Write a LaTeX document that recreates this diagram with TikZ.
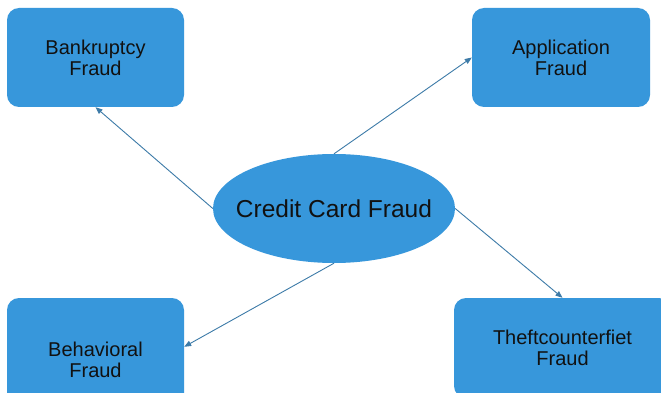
\documentclass[tikz,border=0pt]{standalone}
\usepackage{fontspec}
\setmainfont{Liberation Sans}
\usetikzlibrary{shapes.geometric,arrows.meta,calc}
\definecolor{boxblue}{RGB}{55,151,219}
\definecolor{linkblue}{RGB}{61,123,168}
\definecolor{inkcol}{RGB}{17,17,17}
\begin{document}
\begin{tikzpicture}[x=1pt,y=-1pt,
  fraudbox/.style={draw=none,fill=boxblue,rounded corners=12pt,inner sep=0pt,align=center,text=inkcol,font=\fontsize{20}{21}\selectfont},
  hub/.style={ellipse,fill=boxblue,inner xsep=-20pt,inner ysep=0pt,minimum width=242pt,minimum height=109pt,text=inkcol,font=\fontsize{24.5}{26}\selectfont},
  link/.style={draw=linkblue,line width=0.9pt,-{Triangle[length=7pt,width=5.5pt]}}]
\useasboundingbox (0,0) rectangle (661,393);
\clip (0,0) rectangle (661,393);
\fill[white] (0,0) rectangle (661,393);
\node[fraudbox,minimum width=177pt,minimum height=99pt] (bk) at (95.5,57.5) {Bankruptcy\\Fraud};
\node[fraudbox,minimum width=178pt,minimum height=99pt] (ap) at (561,57.5) {Application\\Fraud};
\node[fraudbox,minimum width=177pt,minimum height=124pt] (bh) at (95.5,360) {Behavioral\\Fraud};
\node[fraudbox,minimum width=217pt,minimum height=100pt] (th) at (562.5,348) {Theftcounterfiet\\Fraud};
\node[hub] (hub) at (334,208.5) {Credit Card Fraud};
\draw[link] (hub.north) -- (ap.west);
\draw[link] (hub.west) -- (bk.south);
\draw[link] (hub.south) -- ($(bh.north east)+(0,49)$);
\draw[link] (hub.east) -- (th.north);
\end{tikzpicture}
\end{document}
